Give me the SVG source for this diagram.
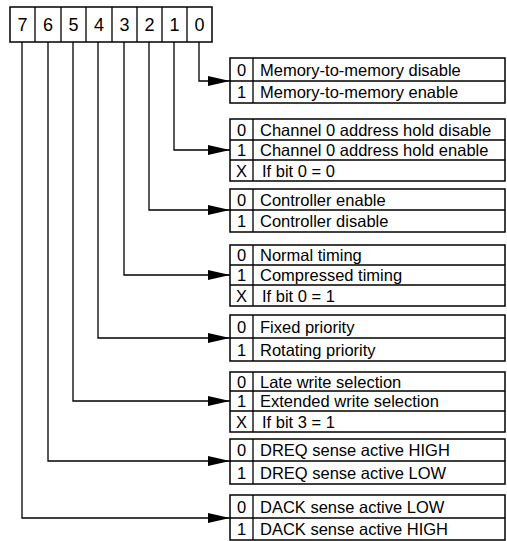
<svg xmlns="http://www.w3.org/2000/svg" width="507" height="541" viewBox="0 0 507 541">
<style>
.bx{fill:#fff;stroke:#000;stroke-width:1.5}
.ln{stroke:#000;stroke-width:1.3;fill:none}
.cn{stroke:#000;stroke-width:1.3;fill:none;marker-end:url(#ah)}
.t{font-family:"Liberation Sans",Arial,sans-serif;font-size:16.5px;fill:#000}
.n{font-family:"Liberation Sans",Arial,sans-serif;font-size:16.5px;fill:#000;text-anchor:middle}
.b{font-family:"Liberation Sans",Arial,sans-serif;font-size:18px;fill:#000;text-anchor:middle}
</style>
<defs>
<marker id="ah" markerUnits="userSpaceOnUse" markerWidth="22" markerHeight="10" refX="22" refY="5" orient="auto">
<path d="M0,0 L22,5 L0,10 Z" fill="#000"/>
</marker>
</defs>
<g id="register">
<rect class="bx" x="10" y="7" width="202" height="35"/>
<path class="ln" d="M35,7V42M61,7V42M86,7V42M112,7V42M137,7V42M162,7V42M187,7V42"/>
<text class="b" x="22.5" y="31">7</text>
<text class="b" x="48" y="31">6</text>
<text class="b" x="73.5" y="31">5</text>
<text class="b" x="99" y="31">4</text>
<text class="b" x="124.5" y="31">3</text>
<text class="b" x="149.5" y="31">2</text>
<text class="b" x="174.5" y="31">1</text>
<text class="b" x="199.5" y="31">0</text>
</g>
<g id="connectors">
<path class="cn" d="M199,42V81H230"/>
<path class="cn" d="M174,42V150H230"/>
<path class="cn" d="M149,42V210H230"/>
<path class="cn" d="M124,42V275H230"/>
<path class="cn" d="M98,42V338H230"/>
<path class="cn" d="M73,42V401H230"/>
<path class="cn" d="M48,42V461H230"/>
<path class="cn" d="M22,42V518H230"/>
</g>
<g id="bit0">
<rect class="bx" x="230" y="58" width="275" height="45"/>
<path class="ln" d="M230,81H505M253,58V103"/>
<text class="n" x="241.5" y="75.5">0</text><text class="t" x="260" y="75.5">Memory-to-memory disable</text>
<text class="n" x="241.5" y="98">1</text><text class="t" x="260" y="98">Memory-to-memory enable</text>
</g>
<g id="bit1">
<rect class="bx" x="230" y="119" width="275" height="62"/>
<path class="ln" d="M230,140H505M230,160H505M253,119V181"/>
<text class="n" x="241.5" y="135.5">0</text><text class="t" x="260" y="135.5">Channel 0 address hold disable</text>
<text class="n" x="241.5" y="156">1</text><text class="t" x="260" y="156">Channel 0 address hold enable</text>
<text class="n" x="241.5" y="176.5">X</text><text class="t" x="262" y="176.5">If bit 0 = 0</text>
</g>
<g id="bit2">
<rect class="bx" x="230" y="189" width="275" height="43"/>
<path class="ln" d="M230,210H505M253,189V232"/>
<text class="n" x="241.5" y="205.5">0</text><text class="t" x="260" y="205.5">Controller enable</text>
<text class="n" x="241.5" y="227">1</text><text class="t" x="260" y="227">Controller disable</text>
</g>
<g id="bit3">
<rect class="bx" x="230" y="245" width="275" height="61"/>
<path class="ln" d="M230,265H505M230,285H505M253,245V306"/>
<text class="n" x="241.5" y="261">0</text><text class="t" x="260" y="261">Normal timing</text>
<text class="n" x="241.5" y="281">1</text><text class="t" x="260" y="281">Compressed timing</text>
<text class="n" x="241.5" y="301.5">X</text><text class="t" x="262" y="301.5">If bit 0 = 1</text>
</g>
<g id="bit4">
<rect class="bx" x="230" y="315" width="275" height="46"/>
<path class="ln" d="M230,338H505M253,315V361"/>
<text class="n" x="241.5" y="332.5">0</text><text class="t" x="260" y="332.5">Fixed priority</text>
<text class="n" x="241.5" y="355.5">1</text><text class="t" x="260" y="355.5">Rotating priority</text>
</g>
<g id="bit5">
<rect class="bx" x="230" y="372" width="275" height="60"/>
<path class="ln" d="M230,391H505M230,411H505M253,372V432"/>
<text class="n" x="241.5" y="387.5">0</text><text class="t" x="260" y="387.5">Late write selection</text>
<text class="n" x="241.5" y="407">1</text><text class="t" x="260" y="407">Extended write selection</text>
<text class="n" x="241.5" y="427.5">X</text><text class="t" x="262" y="427.5">If bit 3 = 1</text>
</g>
<g id="bit6">
<rect class="bx" x="230" y="439" width="275" height="45"/>
<path class="ln" d="M230,461H505M253,439V484"/>
<text class="n" x="241.5" y="456">0</text><text class="t" x="260" y="456">DREQ sense active HIGH</text>
<text class="n" x="241.5" y="478.5">1</text><text class="t" x="260" y="478.5">DREQ sense active LOW</text>
</g>
<g id="bit7">
<rect class="bx" x="230" y="495" width="275" height="45"/>
<path class="ln" d="M230,518H505M253,495V540"/>
<text class="n" x="241.5" y="512.5">0</text><text class="t" x="260" y="512.5">DACK sense active LOW</text>
<text class="n" x="241.5" y="535">1</text><text class="t" x="260" y="535">DACK sense active HIGH</text>
</g>
</svg>
